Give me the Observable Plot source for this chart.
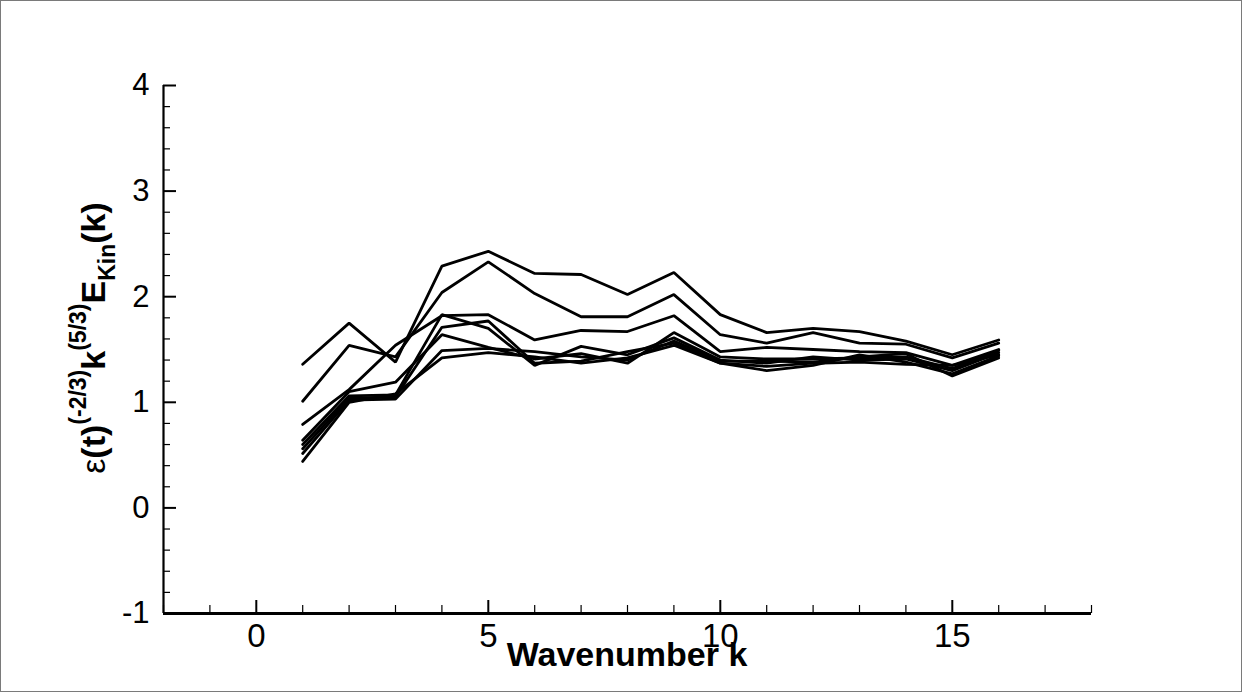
<!DOCTYPE html>
<html><head><meta charset="utf-8">
<script src="https://cdn.jsdelivr.net/npm/d3@7"></script>
<script src="https://cdn.jsdelivr.net/npm/@observablehq/plot@0.6"></script>
<style>
body{margin:0;background:#fff;}
#wrap{position:relative;width:1242px;height:692px;overflow:hidden;background:#fff;}
#border{position:absolute;left:0;top:0;width:1242px;height:692px;box-sizing:border-box;border:1px solid #7a7a7a;pointer-events:none;}
#wrap svg{display:block;}
</style></head><body><div id="wrap"><div id="border"></div></div>
<script>
// Wavenumbers (x values)
const wavenumbers = [1,2,3,4,5,6,7,8,9,10,11,12,13,14,15,16];
// Compensated spectra, one array per time instant
const series1 = [1.36,1.75,1.38,2.29,2.43,2.22,2.21,2.02,2.23,1.83,1.66,1.70,1.67,1.58,1.45,1.59];
const series2 = [1.01,1.54,1.43,2.04,2.33,2.03,1.81,1.81,2.02,1.64,1.56,1.66,1.56,1.55,1.42,1.56];
const series3 = [0.79,1.12,1.54,1.82,1.83,1.59,1.68,1.67,1.82,1.48,1.52,1.50,1.48,1.47,1.35,1.50];
const series4 = [0.60,1.06,1.07,1.83,1.70,1.35,1.53,1.45,1.61,1.40,1.37,1.43,1.40,1.41,1.30,1.47];
const series5 = [0.56,1.04,1.05,1.71,1.77,1.37,1.39,1.48,1.56,1.37,1.30,1.35,1.45,1.38,1.27,1.44];
const series6 = [0.64,1.10,1.19,1.64,1.52,1.41,1.46,1.37,1.66,1.43,1.41,1.41,1.42,1.43,1.32,1.49];
const series7 = [0.515,1.02,1.03,1.49,1.51,1.48,1.43,1.40,1.58,1.39,1.39,1.38,1.43,1.46,1.25,1.42];
const series8 = [0.44,1.00,1.08,1.42,1.47,1.43,1.37,1.42,1.54,1.37,1.34,1.37,1.38,1.36,1.35,1.45];

// Axis ticks
const xDomain = [-2, 18];
const yDomain = [-1, 4];
const xMajorTicks = [0,5,10,15];
const xMinorTicks = [-2,-1,1,2,3,4,6,7,8,9,11,12,13,14,16,17,18];
const yMajorTicks = [-1,0,1,2,3,4];
const yMinorTicks = [-0.8,-0.6,-0.4,-0.2,0.2,0.4,0.6,0.8,1.2,1.4,1.6,1.8,2.2,2.4,2.6,2.8,3.2,3.4,3.6,3.8];
const xLabel = "Wavenumber k";

const allSeries = [series1,series2,series3,series4,series5,series6,series7,series8];
const table = allSeries.flatMap((vals, i) => vals.map((v, j) => ({k: wavenumbers[j], v, s: i})));

const font = "'Liberation Sans', Arial, Helvetica, sans-serif";
const plain = d => String(d);

const chart = Plot.plot({
  width: 1242,
  height: 692,
  marginLeft: 163,
  marginRight: 151,
  marginTop: 85,
  marginBottom: 79,
  style: {fontFamily: font, color: "black", background: "transparent", overflow: "visible"},
  x: {domain: xDomain},
  y: {domain: yDomain},
  marks: [
    Plot.line(table, {x: "k", y: "v", z: "s", stroke: "black", strokeWidth: 2.8, strokeLinejoin: "miter"}),
    // minor ticks
    Plot.axisX(xMinorTicks, {tickSize: -8, fill: "none", label: null, strokeWidth: 1.2}),
    Plot.axisY(yMinorTicks, {tickSize: -7, fill: "none", label: null, strokeWidth: 1.2}),
    // major ticks
    Plot.axisX(xMajorTicks, {tickSize: -13, fill: "none", label: null, strokeWidth: 2}),
    Plot.axisY(yMajorTicks, {tickSize: -13, fill: "none", label: null, strokeWidth: 2}),
    // tick labels
    Plot.axisX(xMajorTicks, {tickSize: 0, tickPadding: 10, fontSize: 33, label: null, tickFormat: plain}),
    Plot.axisY(yMajorTicks, {tickSize: 0, tickPadding: 14, fontSize: 31, label: null, tickFormat: plain}),
    // axis lines
    Plot.ruleY([yDomain[0]], {stroke: "black", strokeWidth: 3}),
    Plot.ruleX([xDomain[0]], {stroke: "black", strokeWidth: 2.2})
  ]
});

const svg = d3.select(chart);
// x axis title
svg.append("text")
  .attr("x", 627).attr("y", 666)
  .attr("text-anchor", "middle")
  .attr("font-family", font)
  .attr("font-weight", "bold")
  .attr("font-size", 34)
  .attr("fill", "black")
  .text(xLabel);

// y axis title with super/subscripts
const F = 34, f = 23;
const yt = svg.append("text")
  .attr("transform", "translate(105,338) rotate(-90)")
  .attr("text-anchor", "middle")
  .attr("font-family", font)
  .attr("font-weight", "bold")
  .attr("fill", "black");
yt.append("tspan").attr("font-size", F).attr("font-weight", "normal").text("ε");
yt.append("tspan").attr("font-size", F).text("(t)");
yt.append("tspan").attr("font-size", f).attr("dy", -0.55 * F).text("(-2/3)");
yt.append("tspan").attr("font-size", F).attr("dy", 0.55 * F).text("k");
yt.append("tspan").attr("font-size", f).attr("dy", -0.55 * F).text("(5/3)");
yt.append("tspan").attr("font-size", F).attr("dy", 0.55 * F).text("E");
yt.append("tspan").attr("font-size", f).attr("dy", 0.28 * F).text("Kin");
yt.append("tspan").attr("font-size", F).attr("dy", -0.28 * F).text("(k)");

document.getElementById("wrap").insertBefore(chart, document.getElementById("border"));
</script>
</body></html>
